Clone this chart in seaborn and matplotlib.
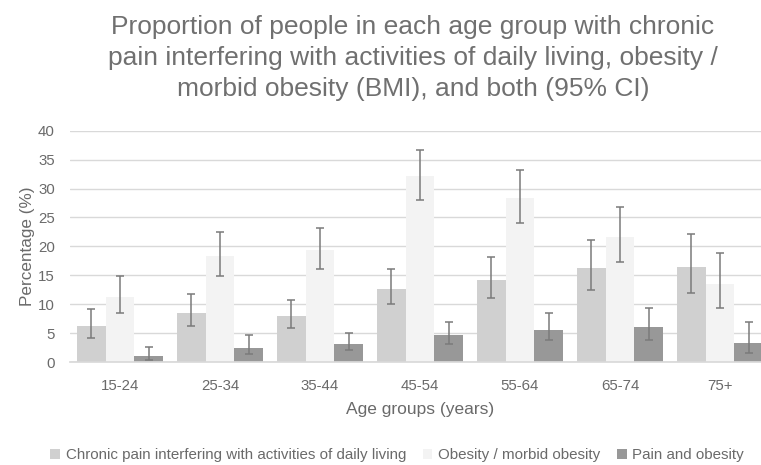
import numpy as np
import pandas as pd
import matplotlib
matplotlib.use("Agg")
import matplotlib.pyplot as plt
import seaborn as sns

# -------------------------
# Data
# -------------------------
age_groups = ["15-24", "25-34", "35-44", "45-54", "55-64", "65-74", "75+"]
series_names = [
    "Chronic pain interfering with activities of daily living",
    "Obesity / morbid obesity",
    "Pain and obesity",
]

pain = [6.2, 8.5, 7.9, 12.6, 14.2, 16.3, 16.5]
pain_lo = [4.2, 6.2, 5.8, 10.0, 11.0, 12.5, 12.0]
pain_hi = [9.2, 11.7, 10.7, 16.0, 18.2, 21.1, 22.2]

obesity = [11.3, 18.4, 19.3, 32.2, 28.3, 21.7, 13.5]
obesity_lo = [8.5, 14.9, 16.0, 28.1, 24.0, 17.3, 9.4]
obesity_hi = [14.9, 22.5, 23.1, 36.6, 33.2, 26.8, 18.9]

both = [1.0, 2.5, 3.1, 4.6, 5.6, 6.0, 3.3]
both_lo = [0.4, 1.4, 2.0, 3.1, 3.75, 3.75, 1.6]
both_hi = [2.6, 4.6, 5.1, 7.0, 8.5, 9.4, 6.9]

colors = ["#d0d0d0", "#f3f3f3", "#989898"]

df = pd.DataFrame({
    "age": age_groups * 3,
    "series": np.repeat(series_names, len(age_groups)),
    "value": pain + obesity + both,
    "lo": pain_lo + obesity_lo + both_lo,
    "hi": pain_hi + obesity_hi + both_hi,
})

# -------------------------
# Plot
# -------------------------
sns.set_theme(style="white")
plt.rcParams["font.family"] = ["Liberation Sans", "DejaVu Sans"]
text_col = "#6a6a6a"

fig = plt.figure(figsize=(7.61, 4.65), dpi=100)
ax = fig.add_axes([70 / 761, 103 / 465, 700 / 761, 231.3 / 465])

sns.barplot(
    data=df, x="age", y="value", hue="series",
    order=age_groups, hue_order=series_names,
    palette=colors, width=0.86, gap=0, errorbar=None,
    saturation=1, linewidth=0, legend=True, ax=ax,
)

# error bars from the bar centres
for cont, name in zip(ax.containers, series_names):
    sub = df[df["series"] == name].set_index("age").loc[age_groups]
    xs = [p.get_x() + p.get_width() / 2 for p in cont.patches]
    ys = sub["value"].to_numpy()
    yerr = np.vstack([ys - sub["lo"].to_numpy(), sub["hi"].to_numpy() - ys])
    ax.errorbar(xs, ys, yerr=yerr, fmt="none", ecolor="#7a7a7a",
                elinewidth=1.1, capsize=2.6, capthick=1.1, zorder=4)

ax.set_xlim(-0.5, 6.5)
ax.set_ylim(0, 40)
ax.set_yticks(range(0, 41, 5))
ax.yaxis.grid(True, color="#d9d9d9", linewidth=1)
ax.set_axisbelow(True)
for s in ["top", "right", "left"]:
    ax.spines[s].set_visible(False)
ax.spines["bottom"].set_color("#d9d9d9")
ax.tick_params(axis="both", length=0, labelsize=10.8, labelcolor=text_col)
ax.tick_params(axis="x", pad=12)
ax.tick_params(axis="y", pad=11)

ax.set_xlabel("Age groups (years)", fontsize=12.5, color=text_col, labelpad=7)
ax.set_ylabel("Percentage (%)", fontsize=12.3, color=text_col, labelpad=2)

handles, labels = ax.get_legend_handles_labels()
ax.get_legend().remove()
fig.legend(handles, labels, loc="center", bbox_to_anchor=(397 / 761, 1 - 455 / 465),
           ncol=3, frameon=False, fontsize=10.9, labelcolor=text_col,
           handlelength=0.65, handleheight=0.65, handletextpad=0.35, columnspacing=1.1)

fig.text(413 / 761, 1 - 58 / 465,
         "Proportion of people in each age group with chronic\n"
         "pain interfering with activities of daily living, obesity /\n"
         "morbid obesity (BMI), and both (95% CI)",
         ha="center", va="center", fontsize=19, color="#707070", linespacing=1.38)

fig.savefig("out.png", dpi=100)
